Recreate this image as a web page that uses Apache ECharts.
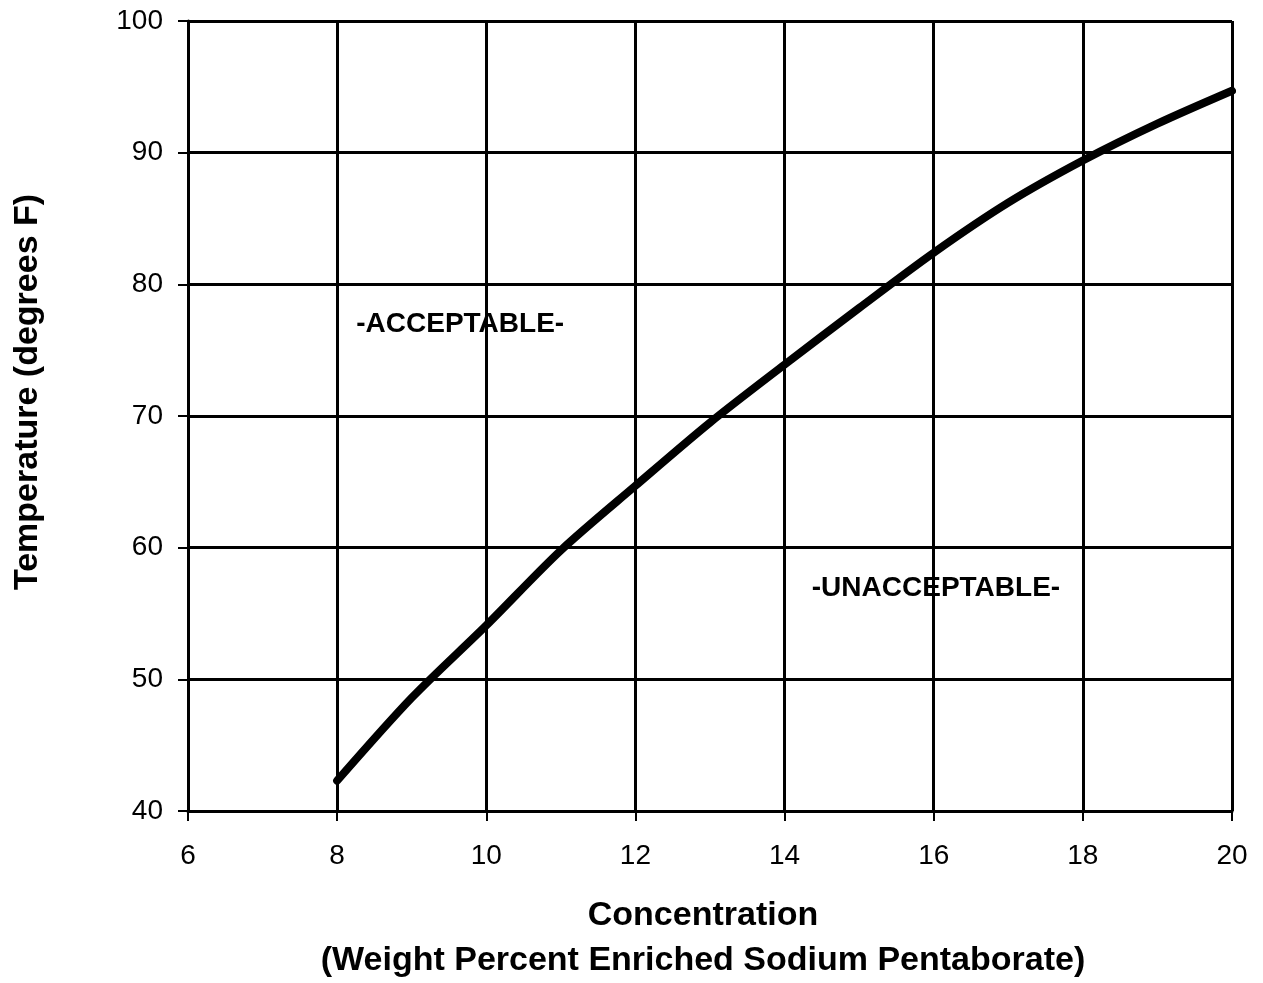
<!DOCTYPE html>
<html><head><meta charset="utf-8">
<script src="https://cdn.jsdelivr.net/npm/echarts@6/dist/echarts.min.js"></script>
<style>html,body{margin:0;padding:0;background:#fff}#c{width:1263px;height:983px}</style>
</head><body><div id="c"></div>
<script>
const concentration = [8, 9, 10, 11, 12, 13, 14, 15, 16, 17, 18, 19, 20];
const temperature = [42.3, 48.6, 54.1, 59.8, 64.7, 69.5, 73.9, 78.2, 82.4, 86.2, 89.4, 92.2, 94.7];
const regionLabels = ['-ACCEPTABLE-', '-UNACCEPTABLE-'];
const regionX = [9.65, 16.03];
const regionY = [77.0, 56.9];
const xTitle = 'Concentration\n(Weight Percent Enriched Sodium Pentaborate)';
const yTitle = 'Temperature (degrees F)';

const chart = echarts.init(document.getElementById('c'));
const font = 'Liberation Sans, Arial, sans-serif';
chart.setOption({
  animation: false,
  grid: {left: 188, right: 31, top: 21, bottom: 172, containLabel: false, outerBoundsMode: 'none'},
  graphic: [{
    type: 'text', x: 28, y: 392, rotation: Math.PI / 2,
    style: {text: yTitle, font: 'bold 34px ' + font, fill: '#000', align: 'center', verticalAlign: 'middle'}
  }],
  xAxis: {
    type: 'value', min: 6, max: 20, interval: 2,
    name: xTitle, nameLocation: 'middle', nameGap: 82,
    nameTextStyle: {fontFamily: font, fontSize: 34, fontWeight: 'bold', color: '#000', lineHeight: 45, padding: [0, 14, 0, 0]},
    axisLine: {lineStyle: {color: '#000', width: 3}},
    axisTick: {show: true, length: 10, lineStyle: {color: '#000', width: 2}},
    axisLabel: {fontFamily: font, fontSize: 28, color: '#000', margin: 31},
    splitLine: {show: true, lineStyle: {color: '#000', width: 3}}
  },
  yAxis: {
    type: 'value', min: 40, max: 100, interval: 10,
    axisLine: {show: true, lineStyle: {color: '#000', width: 3}},
    axisTick: {show: true, length: 10, lineStyle: {color: '#000', width: 2}},
    axisLabel: {fontFamily: font, fontSize: 28, color: '#000', margin: 25},
    splitLine: {show: true, lineStyle: {color: '#000', width: 3}}
  },
  series: [
    {
      type: 'line', smooth: 0.3, symbol: 'none',
      data: concentration.map((c, i) => [c, temperature[i]]),
      lineStyle: {color: '#000', width: 8, cap: 'round'}
    },
    {
      type: 'scatter', symbolSize: 0, itemStyle: {opacity: 1},
      data: regionLabels.map((t, i) => ({value: [regionX[i], regionY[i]], name: t})),
      label: {show: true, position: 'inside', formatter: p => p.name, opacity: 1,
        fontFamily: font, fontSize: 28, fontWeight: 'bold', color: '#000'},
      z: 10
    }
  ]
});
</script></body></html>
